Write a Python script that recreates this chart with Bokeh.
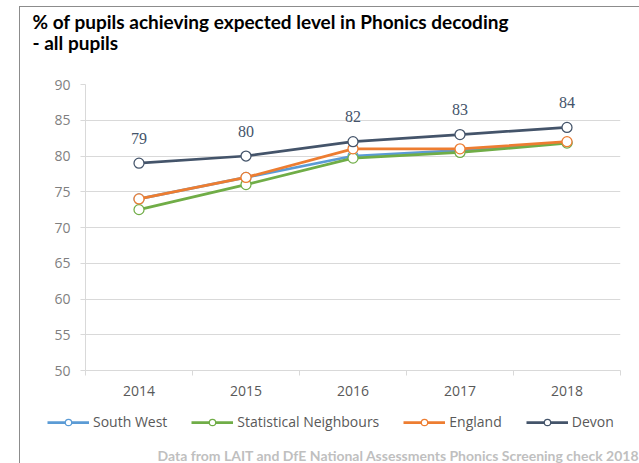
from bokeh.plotting import figure
from bokeh.layouts import column
from bokeh.models import (Range1d, FixedTicker, Legend, LegendItem, Label,
                          LabelSet, ColumnDataSource)
from bokeh.embed import file_html
from bokeh.resources import INLINE

# ---- data ----
years = ["2014", "2015", "2016", "2017", "2018"]
south_west = [74, 77, 80, 80.8, 81.9]
stat_neighbours = [72.5, 76, 79.7, 80.5, 81.8]
england = [74, 77, 81, 81, 82]
devon = [79, 80, 82, 83, 84]
series_names = ["South West", "Statistical Neighbours", "England", "Devon"]
series_colors = ["#5B9BD5", "#70AD47", "#ED7D31", "#44546A"]
y_ticks = [50, 55, 60, 65, 70, 75, 80, 85, 90]
title_lines = ["% of pupils achieving expected level in Phonics decoding",
               "- all pupils"]
footer_text = "Data from LAIT and DfE National Assessments Phonics Screening check 2018"

x_pos = [i + 0.5 for i in range(len(years))]

W = 639
frame_col = "#8c8c8c"
grad = f"linear-gradient({frame_col},{frame_col})"


def strip(height):
    f = figure(width=W, height=height, output_backend="svg", toolbar_location=None,
               x_range=Range1d(0, 1), y_range=Range1d(0, 1),
               x_axis_location=None, y_axis_location=None, min_border=0)
    f.frame_align = False
    f.title = None
    f.grid.visible = False
    f.outline_line_color = None
    f.border_fill_color = None
    f.background_fill_color = None
    return f


# ---- top strip: title ----
t = strip(74)
t.styles = {"background": f"{grad} 19px 6px / 1px 100% no-repeat, "
                          f"{grad} 19px 6px / 100% 1px no-repeat, white"}
for txt, yy in zip(title_lines, [53, 32]):
    t.add_layout(Label(x=32, y=yy, x_units="screen", y_units="screen", text=txt,
                       text_font="Lato", text_font_style="bold",
                       text_font_size="19px", text_color="black",
                       text_baseline="middle", text_align="left"))

# ---- main chart ----
p = figure(width=W, height=328, output_backend="svg", toolbar_location=None,
           x_range=Range1d(0, len(years)), y_range=Range1d(y_ticks[0], y_ticks[-1]),
           min_border_left=85, min_border_right=19, min_border_top=10,
           min_border_bottom=32)
p.frame_align = False
p.title = None
p.styles = {"background": f"{grad} 19px 0px / 1px 100% no-repeat, white"}
p.border_fill_color = None
p.outline_line_color = None
p.background_fill_color = "white"

grid_col = "#D9D9D9"
# x axis
p.xaxis.ticker = FixedTicker(ticks=x_pos, minor_ticks=list(range(len(years) + 1)))
p.xaxis.major_label_overrides = {xp: y for xp, y in zip(x_pos, years)}
p.xaxis.major_tick_line_color = None
p.xaxis.major_tick_out = 5
p.xaxis.major_tick_in = 0
p.xaxis.minor_tick_line_color = grid_col
p.xaxis.minor_tick_out = 5
p.xaxis.minor_tick_in = 0
p.xaxis.axis_line_color = grid_col
p.xaxis.major_label_text_font = "Open Sans"
p.xaxis.major_label_text_font_size = "14px"
p.xaxis.major_label_text_color = "#595959"
p.xaxis.major_label_standoff = 10
p.xgrid.grid_line_color = None

# y axis
p.yaxis.ticker = FixedTicker(ticks=y_ticks)
p.yaxis.minor_tick_line_color = None
p.yaxis.major_tick_line_color = grid_col
p.yaxis.major_tick_out = 5
p.yaxis.major_tick_in = 0
p.yaxis.axis_line_color = grid_col
p.yaxis.major_label_text_font = "Open Sans"
p.yaxis.major_label_text_font_size = "14px"
p.yaxis.major_label_text_color = "#7F7F7F"
p.yaxis.major_label_standoff = 10
p.ygrid.grid_line_color = grid_col
p.ygrid.grid_line_width = 1

for vals, col in zip([south_west, stat_neighbours, england, devon], series_colors):
    src = ColumnDataSource(dict(x=x_pos, y=vals))
    p.line("x", "y", source=src, line_color=col, line_width=2.75)
    p.scatter("x", "y", source=src, size=10, fill_color="white",
              line_color=col, line_width=1.25)

# data labels for Devon
lab_src = ColumnDataSource(dict(x=x_pos, y=devon, t=[str(v) for v in devon]))
p.add_layout(LabelSet(x="x", y="y", text="t", source=lab_src, y_offset=25,
                      text_align="center", text_baseline="middle",
                      text_font="Open Sans", text_font_size="16px",
                      text_color="#44546A"))

# ---- bottom strip: legend + source note ----
q = strip(61)
q.styles = {"background": f"{grad} 19px 0px / 1px 100% no-repeat, white"}

items = []
for name, col in zip(series_names, series_colors):
    # legend proxies placed outside the visible range of this strip
    r1 = q.line(x=[-5, -4], y=[-5, -5], line_color=col, line_width=2.75)
    r2 = q.scatter(x=[-5], y=[-5], size=9, fill_color="white", line_color=col,
                   line_width=1.25)
    items.append(LegendItem(label=name, renderers=[r1, r2]))

legend = Legend(items=items, orientation="horizontal", location=(47, 32),
                spacing=24, glyph_width=42, glyph_height=16, label_standoff=4,
                label_height=16, padding=0, margin=0, border_line_color=None,
                background_fill_alpha=0, label_text_font="Open Sans",
                label_text_font_size="14px", label_text_color="#595959")
q.add_layout(legend)

q.add_layout(Label(x=157, y=8, x_units="screen", y_units="screen",
                   text=footer_text, text_font="Lato", text_font_style="bold",
                   text_font_size="14px", text_color="#BFBFBF",
                   text_baseline="middle", text_align="left"))

open("out.html", "w").write(file_html(column(t, p, q, spacing=0), INLINE))
